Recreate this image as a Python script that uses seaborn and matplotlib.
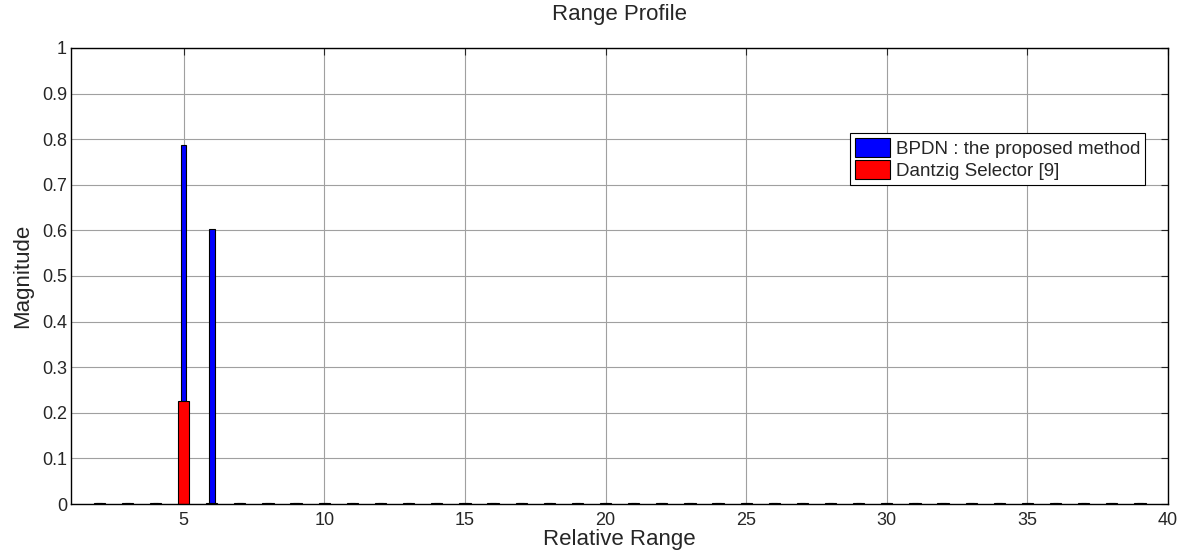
import numpy as np
import matplotlib
matplotlib.use("Agg")
from matplotlib import pyplot as plt
import seaborn as sns

# Relative range bins and magnitudes
positions = list(range(2, 40))
bpdn = [0.002, 0.002, 0.002, 0.787, 0.603] + [0.002] * 33
dantzig = [0.002, 0.002, 0.002, 0.225, 0.002] + [0.002] * 33

xticks = [5, 10, 15, 20, 25, 30, 35, 40]
yticks = [0, 0.1, 0.2, 0.3, 0.4, 0.5, 0.6, 0.7, 0.8, 0.9, 1]
ytick_labels = ["0", "0.1", "0.2", "0.3", "0.4", "0.5", "0.6", "0.7", "0.8", "0.9", "1"]

sns.set_style("white")
plt.rcParams["font.family"] = ["Liberation Sans", "DejaVu Sans"]

fig = plt.figure(figsize=(11.85, 5.56), dpi=100)
ax = fig.add_axes([0.06, 0.0935, 0.9257, 0.8202])

sns.barplot(x=positions, y=bpdn, native_scale=True, width=0.2, color="#0000ff",
            edgecolor="black", linewidth=0.8, saturation=1, label="BPDN : the proposed method", ax=ax)
sns.barplot(x=positions, y=dantzig, native_scale=True, width=0.4, color="#ff0000",
            edgecolor="black", linewidth=0.8, saturation=1, label="Dantzig Selector [9]", ax=ax)

ax.set_xlim(1, 40)
ax.set_ylim(0, 1)
ax.set_xticks(xticks)
ax.set_xticklabels([str(t) for t in xticks])
ax.set_yticks(yticks)
ax.set_yticklabels(ytick_labels)
ax.grid(True, color="#a0a0a0", linewidth=0.8)
ax.set_axisbelow(True)
for s in ax.spines.values():
    s.set_color("black")
    s.set_linewidth(1.0)
    s.set_visible(True)
ax.tick_params(direction="in", length=5, width=0.8, top=True, right=True, labelsize=13)
ax.tick_params(axis="x", pad=6)
ax.tick_params(axis="y", pad=3)

ax.set_title("Range Profile", fontsize=16, pad=20)
ax.set_xlabel("Relative Range", fontsize=16, labelpad=0)
ax.set_ylabel("Magnitude", fontsize=16, labelpad=6)

leg = ax.legend(loc="upper right", bbox_to_anchor=(0.979, 0.813), fontsize=13.5,
                frameon=True, fancybox=False, edgecolor="black", framealpha=1,
                borderpad=0.25, handlelength=1.9, handleheight=1.15, handletextpad=0.3,
                labelspacing=0.15, borderaxespad=0)
leg.get_frame().set_linewidth(0.8)

plt.savefig("out.png", dpi=100)
plt.close()
